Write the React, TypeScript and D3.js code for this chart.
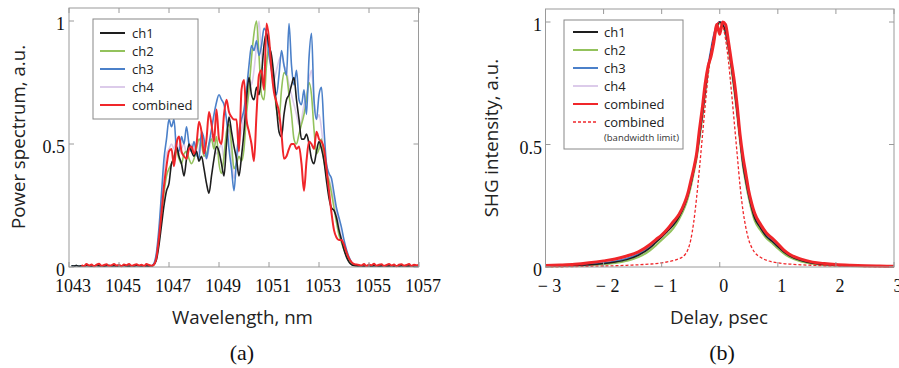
import React from "react";
import * as d3 from "d3";

// ---------- Panel (a): power spectra ----------
const wavelengths: number[] = d3.range(141).map((i) => Math.round((1043 + i * 0.1) * 10) / 10);
const xTicksA = [1043, 1045, 1047, 1049, 1051, 1053, 1055, 1057];
const yTicks = [0, 0.5, 1];
const yTickLabels = ["0", "0.5", "1"];

// floor of the channel traces (1043.0 .. 1046.2 and 1054.7 .. 1057.0)
const chLead = [null, 0.005, 0.004, 0.006, 0.003, 0.005, 0.004, 0.006, 0.005, 0.003, 0.004, 0.006, 0.005, 0.004, 0.003, 0.005, 0.006,
  0.004, 0.005, 0.003, 0.004, 0.005, 0.006, 0.004, 0.003, 0.005, 0.004, 0.006, 0.005, 0.004, 0.003, 0.004, 0.003];
const chTrail = [0.004, 0.003, 0.005, 0.004, 0.003, 0.005, 0.004, 0.003, 0.004, 0.005, 0.003, 0.004, 0.005, 0.003, 0.004, 0.003,
  0.005, 0.004, 0.003, 0.004, 0.005, 0.003, 0.004, 0.003];
const combinedLead = [null, null, null, null, null, 0.008, 0.004, 0.012, 0.006, 0.010, 0.003, 0.009, 0.013, 0.005, 0.008, 0.011, 0.004,
  0.007, 0.012, 0.006, 0.009, 0.003, 0.010, 0.007, 0.012, 0.005, 0.008, 0.011, 0.006, 0.009, 0.004, 0.012, 0.008];
const combinedTrail = [0.006, 0.012, 0.004, 0.010, 0.007, 0.013, 0.005, 0.009, 0.011, 0.004, 0.008, 0.012, 0.006, 0.010, 0.003, 0.009,
  0.011, 0.005, 0.008, 0.012, 0.004, 0.009, 0.007, 0.010];

// 1046.3 .. 1054.6 nm, 0.1 nm step
const ch1Core = [
  0.003, 0.01, 0.03, 0.09, 0.17, 0.25, 0.31,
  0.34, 0.42, 0.44, 0.49, 0.45, 0.42, 0.37, 0.44, 0.50, 0.47,
  0.45, 0.47, 0.43, 0.45, 0.40, 0.34, 0.30, 0.37, 0.44, 0.49,
  0.47, 0.42, 0.37, 0.50, 0.61, 0.55, 0.49, 0.44, 0.37, 0.45,
  0.55, 0.68, 0.77, 0.70, 0.68, 0.73, 0.70, 0.78, 0.90, 0.95,
  0.90, 0.86, 0.77, 0.65, 0.55, 0.53, 0.62, 0.68, 0.70, 0.74,
  0.77, 0.68, 0.60, 0.52, 0.52, 0.54, 0.50, 0.44, 0.42, 0.47,
  0.51, 0.48, 0.43, 0.35, 0.28, 0.24, 0.23, 0.20, 0.15, 0.11,
  0.07, 0.04, 0.02, 0.01, 0.006, 0.005, 0.004];
const ch2Core = [
  0.003, 0.01, 0.04, 0.11, 0.20, 0.30, 0.37,
  0.40, 0.42, 0.45, 0.47, 0.44, 0.42, 0.46, 0.47, 0.44, 0.42,
  0.44, 0.48, 0.52, 0.50, 0.45, 0.46, 0.50, 0.52, 0.48, 0.53,
  0.42, 0.38, 0.45, 0.55, 0.58, 0.50, 0.40, 0.42, 0.45, 0.43,
  0.48, 0.62, 0.72, 0.85, 0.95, 1.00, 0.86, 0.70, 0.68, 0.82,
  0.90, 0.84, 0.74, 0.64, 0.60, 0.72, 0.79, 0.78, 0.70, 0.62,
  0.52, 0.50, 0.54, 0.58, 0.62, 0.68, 0.75, 0.70, 0.56, 0.46,
  0.48, 0.52, 0.43, 0.38, 0.35, 0.30, 0.24, 0.18, 0.13, 0.10,
  0.07, 0.045, 0.025, 0.012, 0.006, 0.004, 0.003];
const ch3Core = [
  0.004, 0.015, 0.06, 0.16, 0.30, 0.44, 0.52,
  0.60, 0.57, 0.60, 0.48, 0.47, 0.53, 0.50, 0.57, 0.50, 0.47,
  0.51, 0.46, 0.44, 0.55, 0.52, 0.44, 0.50, 0.56, 0.62, 0.67,
  0.70, 0.68, 0.66, 0.60, 0.48, 0.40, 0.31, 0.44, 0.55, 0.60,
  0.64, 0.72, 0.82, 0.90, 0.88, 0.92, 0.86, 0.90, 0.97, 0.95,
  0.86, 0.80, 0.74, 0.70, 0.78, 0.88, 0.82, 0.78, 0.99, 0.82,
  0.74, 0.80, 0.68, 0.66, 0.72, 0.62, 0.85, 0.95, 0.68, 0.60,
  0.70, 0.73, 0.56, 0.42, 0.38, 0.36, 0.30, 0.24, 0.20, 0.16,
  0.11, 0.07, 0.04, 0.02, 0.01, 0.006, 0.004];
const ch4Core = [
  0.004, 0.012, 0.05, 0.14, 0.26, 0.38, 0.46,
  0.48, 0.50, 0.48, 0.52, 0.46, 0.48, 0.50, 0.46, 0.48, 0.50,
  0.46, 0.45, 0.48, 0.52, 0.47, 0.44, 0.48, 0.53, 0.50, 0.46,
  0.48, 0.50, 0.44, 0.52, 0.56, 0.45, 0.36, 0.42, 0.50, 0.55,
  0.62, 0.70, 0.78, 0.74, 0.80, 0.90, 1.00, 0.86, 0.76, 0.84,
  0.88, 0.82, 0.76, 0.80, 0.84, 0.86, 0.82, 0.80, 0.74, 0.70,
  0.66, 0.62, 0.58, 0.60, 0.66, 0.70, 0.76, 0.80, 0.68, 0.60,
  0.62, 0.56, 0.46, 0.40, 0.36, 0.32, 0.27, 0.22, 0.17, 0.12,
  0.08, 0.05, 0.03, 0.015, 0.008, 0.005, 0.004];
const combinedCore = [
  0.005, 0.01, 0.04, 0.12, 0.22, 0.33, 0.41,
  0.47, 0.48, 0.41, 0.50, 0.53, 0.47, 0.45, 0.44, 0.48, 0.49,
  0.46, 0.50, 0.59, 0.55, 0.46, 0.52, 0.63, 0.58, 0.51, 0.64,
  0.52, 0.50, 0.62, 0.68, 0.63, 0.61, 0.60, 0.60, 0.47, 0.72,
  0.76, 0.60, 0.55, 0.50, 0.43, 0.62, 0.78, 0.80, 0.72, 0.99,
  0.93, 0.80, 0.71, 0.67, 0.63, 0.54, 0.44, 0.45, 0.48, 0.50,
  0.50, 0.48, 0.49, 0.42, 0.31, 0.43, 0.51, 0.50, 0.48, 0.55,
  0.52, 0.51, 0.48, 0.40, 0.31, 0.22, 0.15, 0.12, 0.11, 0.11,
  0.09, 0.06, 0.035, 0.02, 0.012, 0.01, 0.008];

const spectra = [
  { name: "ch4", color: "#dccbea", width: 1.6, values: [...chLead, ...ch4Core, ...chTrail] },
  { name: "ch2", color: "#93c25c", width: 1.6, values: [...chLead, ...ch2Core, ...chTrail] },
  { name: "ch3", color: "#4b80c9", width: 1.6, values: [...chLead, ...ch3Core, ...chTrail] },
  { name: "ch1", color: "#1e1e1e", width: 1.6, values: [...chLead, ...ch1Core, ...chTrail] },
  { name: "combined", color: "#f0262a", width: 2, values: [...combinedLead, ...combinedCore, ...combinedTrail] },
];
const legendA = [
  { name: "ch1", color: "#1e1e1e" },
  { name: "ch2", color: "#93c25c" },
  { name: "ch3", color: "#4b80c9" },
  { name: "ch4", color: "#dccbea" },
  { name: "combined", color: "#f0262a" },
];

// ---------- Panel (b): SHG autocorrelation ----------
const delays = [-3, -2.75, -2.5, -2.25, -2, -1.8, -1.6, -1.4, -1.2, -1.1, -1.0, -0.9, -0.8, -0.7, -0.6, -0.55, -0.5, -0.45, -0.4,
  -0.35, -0.3, -0.25, -0.2, -0.15, -0.1, -0.05, 0, 0.05, 0.1, 0.15, 0.2, 0.25, 0.3, 0.35, 0.4, 0.45, 0.5, 0.55, 0.6, 0.7, 0.8,
  0.9, 1.0, 1.1, 1.2, 1.4, 1.6, 1.8, 2, 2.25, 2.5, 2.75, 3];
const xTicksB = [-3, -2, -1, 0, 1, 2, 3];

const ac1 = [0.003, 0.004, 0.006, 0.009, 0.014, 0.02, 0.03, 0.048, 0.078, 0.1, 0.122, 0.145, 0.17, 0.205, 0.255, 0.29, 0.335,
  0.39, 0.45, 0.53, 0.62, 0.72, 0.81, 0.88, 0.94, 0.98, 1.0, 0.99, 0.96, 0.9, 0.82, 0.73, 0.63, 0.52, 0.42, 0.35, 0.29, 0.24,
  0.2, 0.16, 0.125, 0.105, 0.083, 0.062, 0.046, 0.026, 0.015, 0.01, 0.007, 0.005, 0.004, 0.003, 0.003];
const ac2 = [0.002, 0.003, 0.005, 0.007, 0.011, 0.016, 0.025, 0.04, 0.068, 0.088, 0.11, 0.132, 0.158, 0.195, 0.245, 0.28, 0.325,
  0.38, 0.44, 0.52, 0.61, 0.71, 0.8, 0.87, 0.93, 0.975, 0.995, 0.985, 0.95, 0.89, 0.81, 0.72, 0.62, 0.51, 0.41, 0.34, 0.28, 0.23,
  0.19, 0.15, 0.118, 0.098, 0.075, 0.055, 0.04, 0.022, 0.013, 0.008, 0.006, 0.004, 0.003, 0.003, 0.002];
const ac3 = [0.004, 0.005, 0.007, 0.01, 0.016, 0.023, 0.034, 0.052, 0.083, 0.105, 0.13, 0.15, 0.175, 0.21, 0.26, 0.295, 0.34,
  0.395, 0.455, 0.535, 0.625, 0.725, 0.815, 0.885, 0.945, 0.985, 1.0, 0.99, 0.96, 0.9, 0.825, 0.735, 0.635, 0.525, 0.425, 0.355,
  0.295, 0.245, 0.205, 0.163, 0.128, 0.108, 0.085, 0.064, 0.048, 0.028, 0.017, 0.011, 0.008, 0.006, 0.004, 0.004, 0.003];
const ac4 = [0.005, 0.006, 0.008, 0.011, 0.017, 0.024, 0.036, 0.055, 0.086, 0.108, 0.133, 0.153, 0.18, 0.215, 0.265, 0.3, 0.345,
  0.4, 0.46, 0.54, 0.63, 0.73, 0.82, 0.89, 0.95, 0.99, 1.0, 0.995, 0.965, 0.905, 0.83, 0.74, 0.64, 0.53, 0.43, 0.36, 0.3, 0.25,
  0.21, 0.168, 0.135, 0.113, 0.09, 0.068, 0.051, 0.03, 0.018, 0.012, 0.009, 0.006, 0.005, 0.004, 0.004];
const acCombined = [0.006, 0.008, 0.011, 0.017, 0.025, 0.033, 0.045, 0.062, 0.092, 0.112, 0.13, 0.155, 0.185, 0.215, 0.265, 0.3,
  0.35, 0.4, 0.46, 0.56, 0.65, 0.75, 0.82, 0.86, 0.92, 0.99, 0.95, 1.0, 0.99, 0.92, 0.84, 0.76, 0.66, 0.54, 0.45, 0.38, 0.31,
  0.26, 0.22, 0.175, 0.14, 0.118, 0.095, 0.07, 0.052, 0.032, 0.02, 0.014, 0.01, 0.007, 0.005, 0.004, 0.003];
const acLimit = [0.001, 0.001, 0.002, 0.003, 0.004, 0.005, 0.007, 0.009, 0.012, 0.014, 0.017, 0.021, 0.026, 0.034, 0.05, 0.07,
  0.11, 0.18, 0.28, 0.4, 0.53, 0.66, 0.78, 0.88, 0.95, 0.99, 1.0, 0.985, 0.93, 0.84, 0.72, 0.59, 0.46, 0.33, 0.23, 0.16, 0.11,
  0.08, 0.06, 0.04, 0.028, 0.021, 0.017, 0.014, 0.012, 0.009, 0.007, 0.005, 0.004, 0.003, 0.002, 0.001, 0.001];

const traces = [
  { name: "ch4", color: "#dccbea", width: 2, dash: "", values: ac4 },
  { name: "ch2", color: "#93c25c", width: 2, dash: "", values: ac2 },
  { name: "ch3", color: "#4b80c9", width: 2, dash: "", values: ac3 },
  { name: "ch1", color: "#1e1e1e", width: 1.5, dash: "", values: ac1 },
  { name: "combined", color: "#f0262a", width: 3, dash: "", values: acCombined },
  { name: "combined (bandwidth limit)", color: "#f0262a", width: 1.3, dash: "3,2", values: acLimit },
];
const legendB = [
  { name: "ch1", color: "#1e1e1e", dash: "" },
  { name: "ch2", color: "#93c25c", dash: "" },
  { name: "ch3", color: "#4b80c9", dash: "" },
  { name: "ch4", color: "#dccbea", dash: "" },
  { name: "combined", color: "#f0262a", dash: "" },
  { name: "combined", color: "#f0262a", dash: "3,2" },
];

const SERIF = "'Liberation Serif', 'Times New Roman', serif";
const SANS = "'Open Sans', Lato, sans-serif";
const AXIS = "#9a9a9a";

type Frame = { x0: number; x1: number; yTop: number; yBot: number };

function Axes({ fr, xs, ys, xTicks, xFmt, labelRight }: any) {
  return (
    <g>
      <rect x={fr.x0} y={fr.yTop} width={fr.x1 - fr.x0} height={fr.yBot - fr.yTop} fill="none" stroke={AXIS} strokeWidth={1} />
      {xTicks.map((t: number) => (
        <g key={"x" + t}>
          <line x1={xs(t)} x2={xs(t)} y1={fr.yBot} y2={fr.yBot - 5} stroke={AXIS} />
          <line x1={xs(t)} x2={xs(t)} y1={fr.yTop} y2={fr.yTop + 5} stroke={AXIS} />
          <text x={xs(t) + 4} y={291.5} textAnchor="middle" fontFamily={SERIF} fontSize={18} fill="#111">{xFmt(t)}</text>
        </g>
      ))}
      {yTicks.map((t, i) => (
        <g key={"y" + t}>
          <line x1={fr.x0} x2={fr.x0 + 5} y1={ys(t)} y2={ys(t)} stroke={AXIS} />
          <line x1={fr.x1} x2={fr.x1 - 5} y1={ys(t)} y2={ys(t)} stroke={AXIS} />
          <text x={labelRight} y={ys(t) + 9} textAnchor="end" fontFamily={SERIF} fontSize={18} fill="#111">{yTickLabels[i]}</text>
        </g>
      ))}
    </g>
  );
}

export default function App() {
  // panel a
  const frA: Frame = { x0: 69, x1: 418.5, yTop: 8, yBot: 267 };
  const xA = d3.scaleLinear().domain([1043, 1057]).range([69, 419]);
  const yA = d3.scaleLinear().domain([0, 1]).range([267, 21]);
  const lineA = (vals: (number | null)[]) =>
    d3.line<number>()
      .defined((_, i) => vals[i] != null)
      .x((d) => xA(d))
      .y((_, i) => yA(vals[i] as number))
      .curve(d3.curveMonotoneX)(wavelengths) || "";

  // panel b
  const frB: Frame = { x0: 545.5, x1: 894, yTop: 9, yBot: 267 };
  const xB = d3.scaleLinear().domain([-3, 3]).range([545.5, 894]);
  const yB = d3.scaleLinear().domain([0, 1]).range([267, 22]);
  const lineB = (vals: number[]) =>
    d3.line<number>()
      .x((d) => xB(d))
      .y((_, i) => yB(vals[i]))
      .curve(d3.curveMonotoneX)(delays) || "";

  const fmtB = (t: number) => (t < 0 ? `\u2212 ${Math.abs(t)}` : `${t}`);

  return (
    <svg width={899} height={368} style={{ position: "absolute", left: 0, top: 0, background: "#fff" }}>
      <defs>
        <clipPath id="clipA"><rect x={frA.x0} y={frA.yTop} width={frA.x1 - frA.x0} height={frA.yBot - frA.yTop + 1} /></clipPath>
        <clipPath id="clipB"><rect x={frB.x0} y={frB.yTop} width={frB.x1 - frB.x0} height={frB.yBot - frB.yTop + 1} /></clipPath>
      </defs>

      {/* Panel (a) */}
      <g clipPath="url(#clipA)">
        {spectra.map((s) => (
          <path key={s.name} d={lineA(s.values)} fill="none" stroke={s.color} strokeWidth={s.width} strokeLinejoin="round" />
        ))}
      </g>
      <Axes fr={frA} xs={xA} ys={yA} xTicks={xTicksA} xFmt={(t: number) => `${t}`} labelRight={65} />
      <g>
        <rect x={93} y={19} width={105} height={100} fill="#fff" stroke="#888" strokeWidth={1} />
        {legendA.map((l, i) => (
          <g key={l.name}>
            <line x1={100} x2={125} y1={33 + i * 18} y2={33 + i * 18} stroke={l.color} strokeWidth={2} />
            <text x={132} y={37.5 + i * 18} fontFamily={SANS} fontSize={13} fill="#222">{l.name}</text>
          </g>
        ))}
      </g>
      <text transform="translate(25,137) rotate(-90)" textAnchor="middle" fontFamily={SANS} fontSize={18.7} fill="#222">Power spectrum, a.u.</text>
      <text x={242.5} y={324} textAnchor="middle" fontFamily={SANS} fontSize={18.7} fill="#222">Wavelength, nm</text>
      <text x={242} y={360} textAnchor="middle" fontFamily={SERIF} fontSize={22} fill="#111">(a)</text>

      {/* Panel (b) */}
      <g clipPath="url(#clipB)">
        {traces.map((s) => (
          <path key={s.name} d={lineB(s.values)} fill="none" stroke={s.color} strokeWidth={s.width}
            strokeDasharray={s.dash || undefined} strokeLinejoin="round" />
        ))}
      </g>
      <Axes fr={frB} xs={xB} ys={yB} xTicks={xTicksB} xFmt={fmtB} labelRight={542} />
      <g>
        <rect x={564} y={20} width={119} height={129} fill="#fff" stroke="#888" strokeWidth={1} />
        {legendB.map((l, i) => (
          <g key={i}>
            <line x1={573} x2={598} y1={32 + i * 18} y2={32 + i * 18} stroke={l.color} strokeWidth={l.dash ? 1.3 : 2}
              strokeDasharray={l.dash || undefined} />
            <text x={604} y={36.5 + i * 18} fontFamily={SANS} fontSize={13} fill="#222">{l.name}</text>
          </g>
        ))}
        <text x={604} y={140.5} fontFamily={SANS} fontSize={9.5} fill="#333">(bandwidth limit)</text>
      </g>
      <text transform="translate(498,138) rotate(-90)" textAnchor="middle" fontFamily={SANS} fontSize={18.7} fill="#222">SHG intensity, a.u.</text>
      <text x={719} y={324} textAnchor="middle" fontFamily={SANS} fontSize={18.7} fill="#222">Delay, psec</text>
      <text x={722} y={360} textAnchor="middle" fontFamily={SERIF} fontSize={22} fill="#111">(b)</text>
    </svg>
  );
}
